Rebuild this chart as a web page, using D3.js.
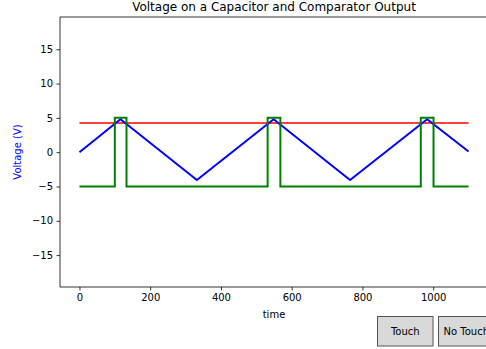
<!DOCTYPE html>
<html><head><meta charset="utf-8">
<script src="https://cdn.jsdelivr.net/npm/d3@7"></script>
<style>body{margin:0;background:#fff;} svg{display:block;font-family:"DejaVu Sans",sans-serif;}</style>
</head><body>
<svg id="c" width="486" height="349"></svg>
<script>
// Data
const capTime = [0, 116, 332, 549, 765, 983, 1100];
const capVolt = [0, 4.8, -4.05, 4.8, -4.05, 4.8, 0.1];
const compTime = [0, 100, 100, 133, 133, 532, 532, 568, 568, 965, 965, 1001, 1001, 1100];
const compVolt = [-5, -5, 5, 5, -5, -5, 5, 5, -5, -5, 5, 5, -5, -5];
const thresholdTime = [0, 1100];
const thresholdVolt = [4.25, 4.25];
const xTicks = [0, 200, 400, 600, 800, 1000];
const yTicks = [-15, -10, -5, 0, 5, 10, 15];
const buttonLabels = ["Touch", "No Touch"];

const svg = d3.select("#c");
const L = 60, R = 488, T = 17, B = 287;
const x = d3.scaleLinear().domain([-55, 1155]).range([L, R]);
const y = d3.scaleLinear().domain([-19.65, 19.7]).range([B, T]);

const line = d3.line().x(d => x(d[0])).y(d => y(d[1]));
const zip = (a, b) => a.map((v, i) => [v, b[i]]);

const plot = svg.append("g");
plot.append("path").datum(zip(thresholdTime, thresholdVolt)).attr("d", line)
  .attr("fill", "none").attr("stroke", "#ff0000").attr("stroke-width", 1.5);
plot.append("path").datum(zip(capTime, capVolt)).attr("d", line)
  .attr("fill", "none").attr("stroke", "#0000ff").attr("stroke-width", 2);
plot.append("path").datum(zip(compTime, compVolt)).attr("d", line)
  .attr("fill", "none").attr("stroke", "#008000").attr("stroke-width", 2);

// Axes
const xAxis = d3.axisBottom(x).tickValues(xTicks).tickSize(3.5).tickPadding(3.5).tickFormat(d3.format("d"));
const yAxis = d3.axisLeft(y).tickValues(yTicks).tickSize(3.5).tickPadding(3.5)
  .tickFormat(d => d < 0 ? "\u2212" + Math.abs(d) : d);
const gx = svg.append("g").attr("transform", `translate(0,${B})`).call(xAxis);
const gy = svg.append("g").attr("transform", `translate(${L},0)`).call(yAxis);
[gx, gy].forEach(g => {
  g.select(".domain").remove();
  g.selectAll("line").attr("stroke", "#000").attr("stroke-width", 0.8);
  g.selectAll("text").attr("font-size", 10).attr("fill", "#000").attr("font-family", "DejaVu Sans");
});
// spines
svg.append("line").attr("x1", L).attr("x2", L).attr("y1", T).attr("y2", B).attr("stroke", "#000").attr("stroke-width", 0.8);
svg.append("line").attr("x1", L).attr("x2", R).attr("y1", B).attr("y2", B).attr("stroke", "#000").attr("stroke-width", 0.8);
svg.append("line").attr("x1", L).attr("x2", R).attr("y1", T).attr("y2", T).attr("stroke", "#000").attr("stroke-width", 0.8);
svg.append("line").attr("x1", R).attr("x2", R).attr("y1", T).attr("y2", B).attr("stroke", "#000").attr("stroke-width", 0.8);

// Titles
svg.append("text").attr("x", (L + R) / 2).attr("y", 11).attr("text-anchor", "middle")
  .attr("font-size", 12).text("Voltage on a Capacitor and Comparator Output");
svg.append("text").attr("x", (L + R) / 2).attr("y", 318).attr("text-anchor", "middle")
  .attr("font-size", 10).text("time");
svg.append("text").attr("transform", `translate(21,${(T + B) / 2}) rotate(-90)`).attr("text-anchor", "middle")
  .attr("font-size", 10).attr("fill", "#0000ff").text("Voltage (V)");

// Buttons
const bx = [377.5, 438.5];
buttonLabels.forEach((lab, i) => {
  const g = svg.append("g");
  g.append("rect").attr("x", bx[i]).attr("y", 316.5).attr("width", 55.5).attr("height", 29.5)
    .attr("fill", "#d9d9d9").attr("stroke", "#555").attr("stroke-width", 1);
  g.append("text").attr("x", bx[i] + 27.75).attr("y", 335).attr("text-anchor", "middle")
    .attr("font-size", 10).text(lab);
});
</script>
</body></html>
